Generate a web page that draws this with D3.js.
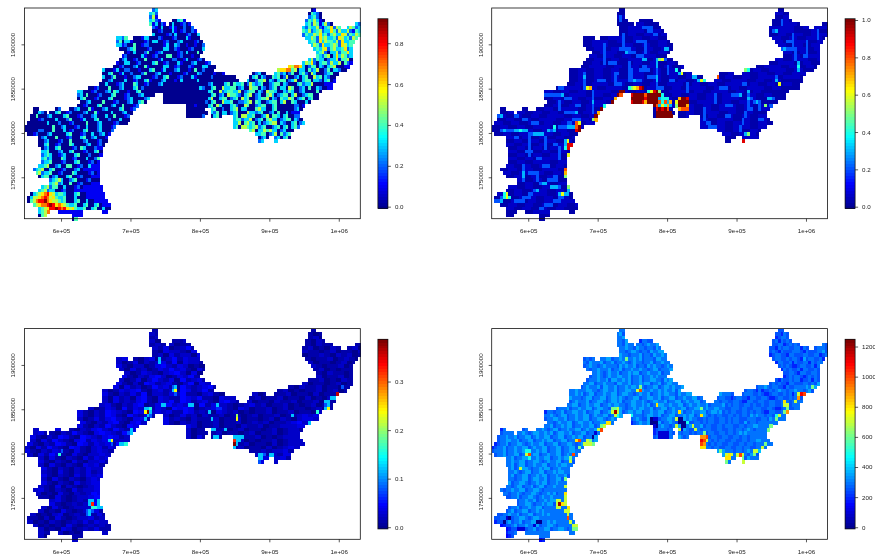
<!DOCTYPE html>
<html>
<head>
<meta charset="utf-8">
<script src="https://cdn.jsdelivr.net/npm/d3@7"></script>
<style>
    html, body { margin: 0; background: #fff; }
    svg { display: block; filter: blur(0.35px); }
    text { font-family: "Liberation Sans", Arial, sans-serif; font-size: 6.2px; fill: #222; }
</style>
</head>
<body>
<script>
// Axis ticks (same for all four maps)
const xTickValues = [600000, 700000, 800000, 900000, 1000000];
const xTickLabels = ["6e+05", "7e+05", "8e+05", "9e+05", "1e+06"];
const yTickValues = [1750000, 1800000, 1850000, 1900000];
const yTickLabels = ["1750000", "1800000", "1850000", "1900000"];

// Map extent and raster resolution in metres
const xExtent = [547400, 1031000];
const yExtent = [1703270, 1941000];
const cellSize = 4000;

// Land cells per raster row: [first column, column after last]
const landSpans = [
    [[46,48],[103,105]], [[45,48],[102,107]], [[45,48],[102,107]], [[45,49],[53,58],[101,108]],
    [[45,51],[52,60],[101,111],[119,121]], [[46,61],[100,114],[116,121]], [[46,62],[100,121]], [[46,63],[100,121]],
    [[33,37],[39,63],[101,120]], [[33,64],[102,119]], [[33,65],[103,118]], [[34,65],[104,118]],
    [[36,64],[105,118]], [[35,63],[105,118]], [[34,65],[102,118]], [[33,67],[100,118]],
    [[32,69],[95,117]], [[28,68],[91,116]], [[28,72],[82,87],[90,113]], [[28,76],[81,112]],
    [[28,77],[80,112]], [[27,111]], [[23,111]], [[19,107]],
    [[19,47],[50,106]], [[19,45],[50,106]], [[20,44],[50,103]], [[19,41],[58,101]],
    [[3,5],[11,13],[16,40],[58,65],[67,100]], [[3,8],[9,39],[58,66],[67,99]], [[2,38],[58,65],[67,71],[75,99]], [[2,38],[75,100]],
    [[1,37],[75,101]], [[0,33],[75,99]], [[0,32],[81,97]], [[1,31],[83,96]],
    [[5,30],[84,88],[90,96]], [[5,30],[84,86],[90,91]], [[5,29]], [[6,28]],
    [[6,28]], [[6,28]], [[6,27]], [[6,27]],
    [[5,27]], [[3,27]], [[4,27]], [[5,27]],
    [[9,27]], [[9,27]], [[6,28]], [[5,28]],
    [[2,29]], [[1,29]], [[1,30]], [[3,31]],
    [[5,31]], [[5,9],[12,21],[28,30]], [[5,8],[17,21]], [[17,19]]
];

// Top left map, one character per cell, tenths
const map1Rows = [
    "23|01","342|04320","251|23420","3421|00341|2435310",
    "413021|03001201|3425413520|32","210300131002002|32433521346254|35423",
    "0012000310120021|435234523364253352143","30000120300012003|243354634245336524354",
    "3324|000133000210001200031000|3354264533426534254","2403310000120330012000230000120|34426354435263344",
    "33120040012200000130032001001002|354263345426534","0002340000120000330021000120003|34356245334623",
    "0103000240012300000120300040|3452033524463","1200000310012000440012000100|4324503635423",
    "0230012004000013000220013000120|3524330233514450","1003300120000340012000310002300012|354620344253350421",
    "0012000230041000003300120002100033000|65776302440320345000","3000130022000100034001300023000104002000|5667745033042350024033200",
    "00340013002000240002300010000120003200001001|02300|34230240034205300023400",
    "3002400010023300001200340001200031000002000000000130|0340320043402500230340053403200",
    "00230000300120034100023000103000003000000000000000|3002445032034402350034403320340",
    "003000123000430012000230000000000000000230000340433402532340023440320003423350000",
    "00120004000230003402000000000000000000003200340053344023005440320234033054002304003200",
    "3300012000230430001003400000000000000000000000034005234433502344032054430032430023000040",
    "2304000120003400012000230000|00000000000000000340230544320345023004530234403500234400",
    "0340001200034000012300002300|00000000000000003500344023405340023445032043354023403400",
    "002300004000120002300340|00000000000000020340053340022345043002344035004300030",
    "0012000340002300400012|000100003405300034200540023440034000000220",
    "00|02|002300041000230000340012|0000000|340020034503300045330034000000230",
    "00320|003400120000230041000030002300|00000000|32403302340005332340023040030",
    "004000230000340001200023000300400012|0000002|0340|340553340023504430340022",
    "000120000300024000130003400020003000|3442335023404533023440320",
    "000000030002000120000400023000012000|33504534030234550320034023",
    "000000000040023000120030002300012|340554345234002340340342",
    "00000220004000301200034000230002|4503354533023000",
    "00120002300000340001200300230|3344023504234",
    "0230004000120003400230001|0230|230340",
    "0023000120040000230001200|23|3",
    "003400120004300002300120","02300340000120430002",
    "3340002300340001200340","234300123000340002000",
    "3423000430012000300240","23340001200034000120",
    "3345002300440012003","234500340012000230",
    "4523340012000430000120","0344023000340012000",
    "2345300234000120004","345230040012000",
    "345244003000120","3452330012000",
    "03456786534430003400","035567875643340003000",
    "045788976554340003400300","4567789867654334003400340",
    "345688987865643340034003000","3457787865643340034002",
    "0456776533400034","04|454330|03","05|3354","34"
];

// Top right map, background: one character per three cells, 0.03 steps
const map2Rows = [
    "1|1","1|21","2|12","1|1|12","11|21|122|1","1221|22212|22","12212|1221121","121212|1212122",
    "1|12212121|212122","1221212112|212212","12211212121|21212","12121212121|12212",
    "122121212|21212","212121221|12122","1212122121|212212","12121121212|122121",
    "1221212121212|12212121","12121212212121|121221211","121212122121212|12|21212122","1212121221212121|1212122122",
    "1212122121211212|212212121","121221212121221212122121212","1221212212121121221212122121","212121221212121221212212121",
    "121221212|12121212121221212","121212121|2121212212122121","12121221|212121212212122","1212122|122121212212121",
    "1|1|12122121|121|12121221212","12|2121212122|121|1212212121","212121221212|12|12|12121212","121212212121|21221212",
    "212121212212|212122121","12121221212|21212212","12212121212|21212","1212212121|21221",
    "2121212121|1|22","12121212|1|1","21212121","1212122",
    "2121212","1212121","2121221","1212212",
    "2121212","1212122","2121212","1212121",
    "212121","121212","2121221","1212212",
    "212122121","121221212","2121212122","1212121212",
    "21212121","1|122|1","1|1","1"
];

// Top right map: streams and hot cells, tenths, a = 1.0
const map2RunsAcross = [
    [34,3,"23222"],[34,8,"33433"],[35,13,"22"],[35,15,"3333"],[34,20,"323"],[33,22,"4"],[33,24,"222333"],[32,27,"22"],
    [37,26,"36"],[38,26,"399"],[39,26,"4990"],[44,27,"68"],[45,26,"8a"],[46,26,"7aa"],[47,26,"58"],
    [52,4,"46"],[53,3,"2464"],[54,1,"223"],[54,8,"2222"],[53,11,"222"],[52,13,"22"],[51,15,"23"],
    [49,17,"233"],[48,20,"2222"],[47,22,"22"],[50,21,"3332"],[56,17,"22"],[55,19,"222"],[54,22,"222"],[53,24,"22"],[52,24,"3633"],
    [33,30,"8a"],[34,30,"9a"],[32,30,"86"],[29,38,"76"],[28,39,"a9"],[30,37,"a9"],[31,36,"57"],[27,40,"43"],
    [26,43,"a9"],[25,44,"78"],[24,45,"a8"],[23,46,"ca"],[22,49,"4567"],[22,53,"9a"],
    [24,50,"9aaaa3"],[25,50,"aaaaa2"],[26,50,"9aaa93"],[27,58,"a8"],[23,56,"469a5"],[24,55,"8aaaaa4"],[25,55,"9aaaaa6"],[26,55,"7aaaa8"],
    [28,59,"9a9a8"],[29,59,"aaaaaa"],[30,59,"aaaaaa"],[25,67,"7aa9"],[26,66,"6aaaa"],[27,66,"5aaa7"],[28,66,"57888"],
    [25,60,"3444"],[26,61,"4837"],[27,60,"36473"],[20,74,"3644"],[14,59,"3562"],[17,66,"4"],[18,67,"36"],[19,72,"33"],
    [11,46,"2222"],[12,48,"3222"],[13,52,"222"],[14,54,"33"],[5,54,"2222"],[6,56,"22"],[7,58,"22"],[11,62,"33"],
    [21,44,"222"],[22,34,"67"],[24,19,"2222223"],[29,26,"2222"],[29,30,"3"],[31,29,"222"],[20,49,"22322"],[17,53,"2222"],
    [11,104,"23222"],[6,101,"23"],[24,86,"2223"],[25,92,"22"],[26,94,"23"],[25,99,"332"],[27,98,"5"],
    [32,77,"22"],[33,78,"222"],[35,91,"35"],[37,90,"9"],[17,91,"54"],[19,81,"8"],[21,103,"6"],[30,2,"23"],
    [30,8,"22"],[31,11,"22"],[32,14,"222"],[36,8,"22"],[40,12,"222"],[42,16,"22"],[44,18,"222"],[38,22,"22"],[46,13,"222"],
    [27,30,"22"],[25,26,"222"],[22,24,"22"],[20,38,"222"],[18,44,"22"],[15,42,"222"],[9,52,"222"],[16,54,"22"],[19,56,"222"],
    [22,60,"22"],[20,64,"22"],[23,70,"2"],[22,82,"222"],[27,84,"222"],[30,84,"22"],[28,92,"22"],[31,96,"22"],[21,90,"22"],[13,112,"22"],[9,106,"22"]
];
const map2RunsDown = [
    [35,13,"2222222"],[44,11,"22332"],[36,19,"2222"],[7,47,"22222"],[2,46,"22"],[15,59,"33223322"],
    [10,40,"222222"],[18,33,"23222"],[23,36,"2223222"],[17,50,"222"],[15,49,"22222"],
    [7,108,"2222"],[11,109,"2222"],[15,110,"343"],[9,113,"2222"],[3,104,"22"],[19,102,"23"],
    [23,92,"32322"],[29,91,"22"],[31,90,"22"],[26,96,"222"],[33,89,"22"],[49,27,"6533"],[41,27,"67"],[28,76,"2222"],
    [39,24,"2222"],[46,16,"222"],[26,24,"222"],[19,44,"222"],[9,55,"2222"],[16,63,"222"],[21,70,"222"],[24,80,"222"],[27,100,"22"],[6,117,"222"]
];

// Bottom left map, background: one character per two cells, 0.012 steps
const map3Rows = [
    "1|1","21|101","12|120","20|112|1021",
    "121|2011|10211|1","21301241|1201021|120","10322103|21101201102","120312203|01121021201",
    "23|102301241322|1011201210","2013021231403221|201101201","3102201342132010|21011201","2031201324231031|1201011",
    "20132102342030|1021101","31021342013241|2011201","2013024213041231|11201021","31020431231024032|201101201",
    "3031201423104212341|10211201101","20132341023120431241|1201011201201","3102131402213241102310|201|112011020112","203120341032114324110322|1201120110201021",
    "2031213410324143123103421|2011021120112011","231021340132423210413221012312011201012011201","20132041324132043430123521032011201201101201211","3102143210431232311431210321201011201120110222",
    "31021431042131|2013120211201101201120112323","20131342103312|312102111201120110120210233","3102134103421|31021201120112012120112342","310214210431|3201120110211201122233",
    "2|3|102134214213|2011|11201201101201221","231|102142103432142|2011|1201101201120122","310214310432134312|2031|11|201120101222","203142103413231|1201011201222",
    "310214310431323142|1120110201222","20314210431023132|120110201232","3102132103102321|11212231","203142103102232|2312133",
    "2031021031323|23|231","3102103102231|3|2","203102103231","31021021322",
    "21031021312","31021031323","20310210232","31021031233",
    "21030210123","231021031223","201031021243","11031012234",
    "231012123","310121234","20310122243","201031012131",
    "20102301212131","11020310122312","201021012131322","20101031012121",
    "2010320121311","21|20101|2","20|11","2"
];
const map3RunsAcross = [
    [22,43,"334"],[23,43,"6a3"],[24,44,"32"],[16,53,"23"],[17,53,"36"],[18,54,"2"],
    [48,23,"33"],[49,23,"38"],[49,26,"33"],[50,24,"4433"],[51,22,"232"],[52,22,"23"],[48,26,"3"],
    [35,12,"4"],[34,13,"2"],[31,30,"36"],[32,31,"2"],[32,34,"334"],[28,38,"3"],[29,37,"23"],
    [21,59,"33"],[21,49,"33"],[24,44,"3"],[25,43,"3"],[8,48,"3"],[9,48,"3"],[25,67,"3"],[28,67,"33"],
    [24,76,"5"],[25,76,"6"],[30,75,"3333"],[31,75,"833"],[32,75,"a3"],[33,75,"3"],
    [18,112,"9"],[19,110,"33"],[20,108,"33"],[21,108,"23"],[22,108,"36"],[23,105,"4"],[24,96,"3"],
    [35,84,"332"],[36,84,"33"],[37,84,"2"],[35,88,"33"],[26,102,"3"],[16,114,"2"],[23,66,"3"],[28,72,"3"],[30,68,"33"],[21,69,"3"]
];

// Bottom right map, one character per cell, 50 steps
const map4Rows = [
    "66|55","675|55465","667|45665","6657|46655|5646565",
    "665766|66567667|5566456565|65","667665766566576|55465665566465|56665",
    "6656776566576677|565465556665465556675","76656667566576676|456655466555665566456",
    "5656|667756676566767566657766|5665565665475665564","6576667566756676567665667566766|466556465566465",
    "5676656766665767667566576766567|56565445665564","6566766675667566766766567756667|46565564665565",
    "6676567667566767756676667566|5566546655665","5667656766776675667566767666|4565665456565",
    "5666766757766767566756677665767|5465565664556465","6677566766657766756676775667567766|565655466555665657",
    "5676667577667566767767656677567767667|5667656655465566667657","6676667766567766756677667576676676766757|5665464556567665667665675",
    "66767567756676677567766567667566767766576677|76665|56665565445665565646655",
    "7666567756677567767656677566776675667756676677566767|5665545665546655665445665565665",
    "5676667566776567767566776676567766756677567667756677|6656655665446655665566556665",
    "667756676677566767766567766767566776676677567667667566667565665566565565566556655",
    "5666756676677567766567776566767766756677567667756677567667766556665665566655665445665566",
    "4665667566776675667756676677567767756676677566767756676677567767565665566565665446655667",
    "6676567756676677567667756677|7666567766756677566767756676565665566565665767665665a",
    "5667766756676677566776567666|5676557667566776566767665565665566565665556665566576",
    "665676677567766756677566|4567667567756676566765566565665566565665575665",
    "667566767756676677566|45676656675667766756655665666556656677",
    "4|5|6676567756676677567667|4566656|6676556656665566556656656765",
    "56|6676567766767567766756677566|45665765|6566565665566556656656767",
    "566766756677567667756677566767756677|5664566|7656|6665665566556656656666",
    "5667766756677566767756677566776676677|7666565665566556656677",
    "45667566776567667756677566776567667|766565665566556656656",
    "4566756676677567667756677566775667|76665665566556656655",
    "5666756676677566767756677566776|7676665665676678",
    "566756677566767756676677567|7767665665765",
    "6675667756676677566767766|66|6576",
    "6676677566776567667756675|7|7",
    "667567756676677566767766","67566776566767756676",
    "6676567756677566767766","6756677566767756676675",
    "6656677567766756677566","7566776566767756676",
    "6656775667567756676","656676677566776566",
    "6656676566776566767566","55667566776567667",
    "5667667566767756676","566776566767756",
    "566756676677566","56756677566767",
    "5566766756677566767","556676566776567766",
    "4556675667566776566767","34556756676677566776566",
    "3455667566756677566776566","45566756677566767756676",
    "34556756677566767","34|5566756|6","45|66","6"
];
const map4RunsAcross = [
    [22,43,"667"],[23,43,"7c7"],[24,44,"75"],[17,52,"7a"],[16,53,"6"],[48,23,"77"],[49,23,"7c8"],[50,23,"77"],
    [42,26,"6"],[44,26,"7"],[46,26,"8"],[47,26,"7"],[48,26,"7"],[49,26,"77"],[50,27,"8"],[51,26,"77"],[52,27,"7"],[53,27,"a"],[54,28,"7"],[55,29,"77"],[56,29,"66"],
    [34,12,"55"],[35,12,"7a"],[36,13,"5"],[39,10,"7"],[31,30,"8a"],[35,29,"a"],[36,28,"6"],[37,28,"7"],
    [32,33,"777"],[32,36,"6"],[31,34,"76"],[33,31,"6"],[29,37,"1"],[30,36,"0"],[28,38,"7a"],[27,39,"67"],[26,41,"88"],
    [8,48,"6"],[21,59,"8"],[24,50,"5"],[25,57,"011"],[26,57,"000"],[27,58,"10"],[29,60,"1111"],[30,60,"1111"],
    [25,66,"700"],[26,67,"000"],[27,66,"7"],[27,68,"00"],[28,66,"771"],[26,70,"5"],[27,72,"7"],[28,73,"7"],
    [24,75,"8"],[23,67,"8"],[30,75,"99a"],[31,75,"ba7"],[32,75,"a9"],[33,75,"88"],[29,76,"6"],[22,75,"6"],
    [35,84,"787"],[36,84,"88"],[34,82,"6"],[37,84,"6"],[35,88,"7a7"],[36,90,"6"],[34,94,"77"],[35,94,"6"],[37,90,"7"],
    [32,98,"6"],[33,97,"7"],[27,100,"6"],[28,99,"66"],[23,105,"69"],[22,106,"6"],[21,106,"7"],[24,103,"7"],
    [20,109,"7"],[19,110,"9"],[18,110,"7ba"],[20,105,"8"],[21,105,"7"],[16,115,"6"],[25,102,"6"],
    [53,5,"10"],[54,4,"0"],[56,9,"111"],[54,16,"00"],[55,15,"1"]
];

// Colour key ticks per map
const map1KeyTicks = [0, 0.2, 0.4, 0.6, 0.8];
const map2KeyTicks = [0, 0.2, 0.4, 0.6, 0.8, 1];
const map3KeyTicks = [0, 0.1, 0.2, 0.3];
const map4KeyTicks = [0, 200, 400, 600, 800, 1000, 1200];

// Layout of the four panels
const width = 875;
const height = 559;
const panelWidth = 335.8;
const panelHeight = 210.7;

const panels = [
    { left: 24.5, top: 8, rows: map1Rows, perChar: 1, step: 0.1, base: 1, across: [], down: [], runStep: 0.1,
      zlim: [-0.008, 0.92], keyTicks: map1KeyTicks, keyFormat: d3.format(".1f") },
    { left: 491.7, top: 8, rows: map2Rows, perChar: 3, step: 0.03, base: 1, across: map2RunsAcross, down: map2RunsDown, runStep: 0.1,
      zlim: [-0.0086, 1.007], keyTicks: map2KeyTicks, keyFormat: d3.format(".1f") },
    { left: 24.5, top: 328.6, rows: map3Rows, perChar: 2, step: 0.012, base: 2, across: map3RunsAcross, down: [], runStep: 0.04,
      zlim: [-0.0035, 0.387], keyTicks: map3KeyTicks, keyFormat: d3.format(".1f") },
    { left: 491.7, top: 328.6, rows: map4Rows, perChar: 1, step: 50, base: 6, across: map4RunsAcross, down: [], runStep: 100,
      zlim: [-11, 1248], keyTicks: map4KeyTicks, keyFormat: d3.format("d") }
];

// tim.colors style ramp, 64 levels
const jet = d3.scaleLinear()
    .domain([0, 0.125, 0.375, 0.625, 0.875, 1])
    .range(["#00008F", "#0000FF", "#00FFFF", "#FFFF00", "#FF0000", "#800000"]);
const palette = d3.range(64).map(i => jet(i / 63));

const charValue = (ch) => parseInt(ch, 36);

// Expand the row strings over the land cells, then lay the runs on top
const buildCells = (panel) => {
    const cells = new Map();
    landSpans.forEach((spans, row) => {
        const segments = panel.rows[row].split("|");
        spans.forEach(([from, to], i) => {
            const text = segments[i] || "";
            for (let col = from; col < to; col++) {
                const ch = text[Math.floor((col - from) / panel.perChar)];
                const level = ch === undefined ? panel.base : charValue(ch);
                cells.set(`${row}:${col}`, { row, col, value: level * panel.step });
            }
        });
    });
    const setCell = (row, col, ch) => {
        const cell = cells.get(`${row}:${col}`);
        if (cell) cell.value = charValue(ch) * panel.runStep;
    };
    panel.across.forEach(([row, col, text]) => [...text].forEach((ch, i) => setCell(row, col + i, ch)));
    panel.down.forEach(([row, col, text]) => [...text].forEach((ch, i) => setCell(row + i, col, ch)));
    return [...cells.values()];
};

const svg = d3.select("body").append("svg")
    .attr("width", width)
    .attr("height", height);

panels.forEach((panel) => {
    const g = svg.append("g").attr("transform", `translate(${panel.left}, ${panel.top})`);

    const xScale = d3.scaleLinear().domain(xExtent).range([0, panelWidth]);
    const yScale = d3.scaleLinear().domain(yExtent).range([panelHeight, 0]);
    const colorScale = d3.scaleQuantize().domain(panel.zlim).range(palette);
    const cellX = (col) => xExtent[0] + col * cellSize;
    const cellY = (row) => yExtent[1] - row * cellSize;

    // Raster
    g.append("g")
        .attr("shape-rendering", "crispEdges")
        .selectAll("rect")
        .data(buildCells(panel))
        .join("rect")
        .attr("x", d => xScale(cellX(d.col)))
        .attr("y", d => yScale(cellY(d.row)))
        .attr("width", d => xScale(cellX(d.col + 1)) - xScale(cellX(d.col)) + 0.3)
        .attr("height", d => yScale(cellY(d.row + 1)) - yScale(cellY(d.row)) + 0.3)
        .attr("fill", d => colorScale(d.value));

    // Frame
    g.append("rect")
        .attr("width", panelWidth)
        .attr("height", panelHeight)
        .attr("fill", "none")
        .attr("stroke", "#111")
        .attr("stroke-width", 0.8);

    // Axes
    const xAxis = d3.axisBottom(xScale)
        .tickValues(xTickValues)
        .tickFormat((d, i) => xTickLabels[i])
        .tickSize(3)
        .tickPadding(7);
    const yAxis = d3.axisLeft(yScale)
        .tickValues(yTickValues)
        .tickFormat((d, i) => yTickLabels[i])
        .tickSize(3)
        .tickPadding(0);

    const xG = g.append("g").attr("transform", `translate(0, ${panelHeight})`).call(xAxis);
    const yG = g.append("g").call(yAxis);
    [xG, yG].forEach(a => {
        a.select(".domain").remove();
        a.selectAll("line").attr("stroke", "#111").attr("stroke-width", 0.7);
        a.selectAll("text").attr("font-size", null).attr("font-family", null);
    });
    xG.selectAll("text").attr("y", 10);
    yG.selectAll("text")
        .attr("x", null)
        .attr("dy", null)
        .attr("text-anchor", "middle")
        .attr("transform", "translate(-9.2, 0) rotate(-90)");

    // Colour key
    const keyG = g.append("g").attr("transform", `translate(${panelWidth + 17.6}, 10.7)`);
    const keyWidth = 10;
    const keyHeight = 189.6;
    const keyScale = d3.scaleLinear().domain(panel.zlim).range([keyHeight, 0]);
    const bandSize = (panel.zlim[1] - panel.zlim[0]) / palette.length;

    keyG.append("g")
        .attr("shape-rendering", "crispEdges")
        .selectAll("rect")
        .data(palette)
        .join("rect")
        .attr("x", 0)
        .attr("width", keyWidth)
        .attr("y", (d, i) => keyScale(panel.zlim[0] + (i + 1) * bandSize))
        .attr("height", keyHeight / palette.length + 0.3)
        .attr("fill", d => d);

    keyG.append("rect")
        .attr("width", keyWidth)
        .attr("height", keyHeight)
        .attr("fill", "none")
        .attr("stroke", "#111")
        .attr("stroke-width", 0.8);

    const keyAxis = d3.axisRight(keyScale)
        .tickValues(panel.keyTicks)
        .tickFormat(panel.keyFormat)
        .tickSize(3)
        .tickPadding(4);
    const keyAxisG = keyG.append("g").attr("transform", `translate(${keyWidth}, 0)`).call(keyAxis);
    keyAxisG.select(".domain").remove();
    keyAxisG.selectAll("line").attr("stroke", "#111").attr("stroke-width", 0.7);
    keyAxisG.selectAll("text").attr("font-size", null).attr("font-family", null);
});
</script>
</body>
</html>
